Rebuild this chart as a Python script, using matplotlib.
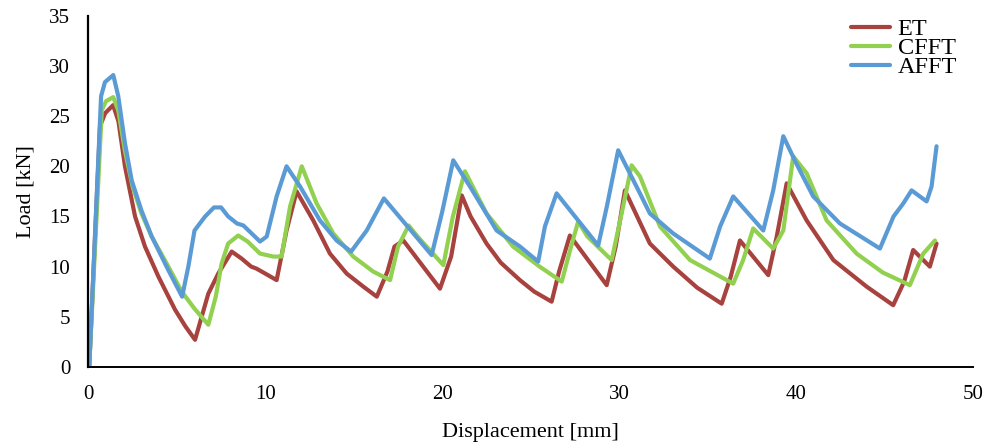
# plot.py

# pip packages
import matplotlib
matplotlib.use("Agg")
import matplotlib.pyplot as plt

# data (displacement mm, load kN)
et_x = [0.05, 0.66, 0.95, 1.4, 1.7, 2.07, 2.64, 3.2, 3.96, 4.9, 5.5, 6.03,
        6.78, 7.34, 8.1, 8.66, 9.2, 9.5, 10.0, 10.64, 11.2, 11.77,
        12.71, 13.65, 14.6, 15.54, 16.3, 16.9, 17.3, 17.8, 19.87,
        20.5, 21.1, 21.6, 22.5, 23.3, 24.39, 25.2, 26.18, 26.6, 27.21,
        29.29, 29.8, 30.32, 31.73, 33.05, 34.4, 35.79, 36.3, 36.82,
        38.42, 38.9, 39.46, 40.59, 42.1, 43.98, 45.48, 46.1, 46.61,
        47.55, 47.93]
et_y = [0.0, 24.0, 25.3, 26.1, 24.5, 20.0, 15.0, 12.0, 9.0, 5.7, 4.0, 2.7,
        7.3, 9.3, 11.5, 10.8, 10.0, 9.8, 9.3, 8.65, 13.6, 17.5,
        14.6, 11.3, 9.3, 8.0, 7.0, 9.5, 12.0, 12.6, 7.8,
        11.0, 17.1, 15.0, 12.3, 10.4, 8.65, 7.5, 6.5, 9.5, 13.1,
        8.15, 12.0, 17.6, 12.3, 10.0, 7.9, 6.3, 9.0, 12.6,
        9.15, 13.0, 18.3, 14.6, 10.65, 8.0, 6.15, 8.5, 11.65,
        10.0, 12.3]

cfft_x = [0.05, 0.76, 1.0, 1.41, 1.7, 2.07, 2.5, 3.0, 3.58, 4.52, 5.28, 6.0,
          6.78, 7.2, 7.53, 7.9, 8.47, 9.0, 9.7, 10.45, 10.92, 11.4, 12.06,
          12.9, 13.84, 14.97, 16.1, 17.05, 17.5, 18.1, 18.6, 20.06, 20.6,
          21.28, 22.5, 24.0, 25.5, 26.75, 27.2, 27.68, 28.2, 29.57, 30.1,
          30.7, 31.17, 32.3, 34.0, 36.44, 37.0, 37.57, 38.7, 39.27, 39.83,
          40.59, 41.72, 43.41, 44.9, 46.42, 47.18, 47.84]
cfft_y = [0.0, 25.6, 26.5, 26.9, 25.5, 21.5, 18.0, 15.3, 13.0, 10.0, 7.5, 5.8,
          4.2, 7.0, 10.3, 12.3, 13.1, 12.5, 11.3, 11.0, 11.0, 16.0, 20.0,
          16.3, 13.3, 11.0, 9.5, 8.65, 12.0, 14.1, 13.0, 10.15, 15.0,
          19.5, 15.3, 12.0, 10.0, 8.5, 11.5, 14.5, 13.0, 10.65, 15.0,
          20.1, 19.0, 14.0, 10.65, 8.3, 10.65, 13.8, 11.8, 13.6, 21.0,
          19.3, 14.6, 11.3, 9.4, 8.15, 11.3, 12.6]

afft_x = [0.05, 0.72, 0.94, 1.41, 1.69, 2.07, 2.45, 3.0, 3.58, 4.52, 5.3,
          5.65, 6.0, 6.6, 7.1, 7.5, 7.9, 8.4, 8.76, 9.7, 10.08, 10.64, 11.2,
          11.96, 13.09, 14.03, 14.85, 15.73, 16.7, 19.4, 20.0, 20.62, 21.56,
          23.07, 24.39, 25.42, 25.8, 26.46, 28.81, 29.3, 29.94, 31.17,
          31.73, 33.05, 35.12, 35.7, 36.44, 38.14, 38.7, 39.27, 40.0,
          40.96, 42.47, 44.73, 45.5, 46.05, 46.52, 47.37, 47.65, 47.93]
afft_y = [0.0, 27.0, 28.4, 29.1, 27.0, 22.3, 18.6, 15.6, 13.0, 9.65, 7.0,
          10.0, 13.6, 15.0, 15.9, 15.9, 15.0, 14.3, 14.1, 12.5, 13.0, 17.0, 20.0,
          18.0, 14.6, 12.6, 11.5, 13.6, 16.8, 11.15, 15.5, 20.6, 18.0,
          13.6, 12.0, 10.5, 14.0, 17.3, 12.1, 16.0, 21.6, 17.3,
          15.3, 13.3, 10.8, 14.0, 17.0, 13.6, 17.6, 23.0, 20.3,
          17.0, 14.3, 11.8, 15.0, 16.3, 17.6, 16.5, 18.0, 22.0]

series = [
    ("ET", et_x, et_y, "#A8423F"),
    ("CFFT", cfft_x, cfft_y, "#92D050"),
    ("AFFT", afft_x, afft_y, "#5B9BD5"),
]

plt.rcParams["font.family"] = ["Liberation Serif", "DejaVu Serif"]

fig = plt.figure(figsize=(9.87, 4.42), dpi=100)
ax = fig.add_axes([0.0895, 0.170, 0.8965, 0.794])

for name, xs, ys, col in series:
    ax.plot(xs, ys, color=col, lw=3.0, label=name,
            solid_joinstyle="round", solid_capstyle="round")

ax.set_xlim(0, 50)
ax.set_ylim(0, 35)
ax.set_xticks(range(0, 51, 10))
ax.set_yticks(range(0, 36, 5))
ax.tick_params(length=0, labelsize=15)
ax.tick_params(axis="x", pad=13)
ax.tick_params(axis="y", pad=13)

for side in ["top", "right"]:
    ax.spines[side].set_visible(False)
ax.spines["left"].set_linewidth(1.6)
ax.spines["bottom"].set_linewidth(1.4)

ax.set_xlabel("Displacement [mm]", fontsize=16, labelpad=14)
ax.set_ylabel("Load [kN]", fontsize=16, labelpad=10)

ax.legend(loc="upper right", bbox_to_anchor=(1.001, 1.042), frameon=False,
          fontsize=17.5, handlelength=1.6, handletextpad=0.3,
          labelspacing=-0.12, borderpad=0.2)

fig.savefig("out.png", dpi=100)
